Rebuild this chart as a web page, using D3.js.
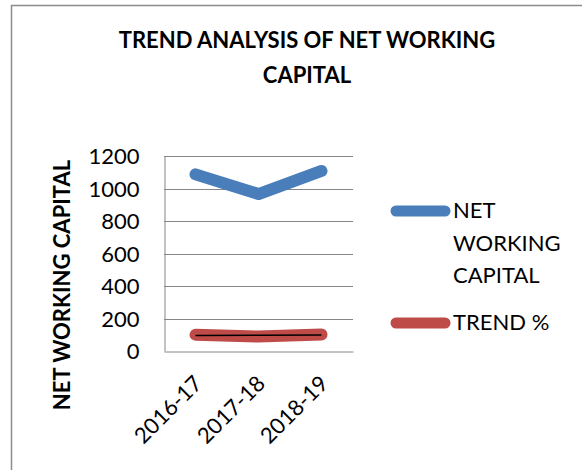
<!DOCTYPE html>
<html>
<head>
<meta charset="utf-8">
<script src="https://cdn.jsdelivr.net/npm/d3@7"></script>
<style>
  body { margin: 0; background: #fff; }
  text { font-family: Lato, "Open Sans", sans-serif; fill: #000; }
</style>
</head>
<body>
<script>
// data
var years = ["2016-17", "2017-18", "2018-19"];
var netWorkingCapital = [1087, 966, 1108];
var trendPct = [100, 88.87, 101.93];
var yTicks = [0, 200, 400, 600, 800, 1000, 1200];
var titleLines = ["TREND ANALYSIS OF NET WORKING", "CAPITAL"];

var breedte = 582, hoogte = 470;
var plot = {links: 164, rechts: 353, boven: 156, beneden: 351};
var blauw = "#4a7ebb", rood = "#be4b48";

var svg = d3.select("body").append("svg")
  .attr("width", breedte)
  .attr("height", hoogte);

// chart border (only top and left show in the picture)
svg.append("path")
  .attr("d", "M11.5," + hoogte + "V5.5H" + breedte)
  .attr("fill", "none")
  .attr("stroke", "#8c8c8c")
  .attr("stroke-width", 1.5);

var x = d3.scalePoint()
  .domain(years)
  .range([plot.links, plot.rechts])
  .padding(0.5);

var y = d3.scaleLinear()
  .domain([0, 1200])
  .range([plot.beneden, plot.boven]);

// title
svg.append("g").selectAll("text")
  .data(titleLines)
  .enter().append("text")
  .attr("x", 307)
  .attr("y", function(d, i) { return 48 + i * 35; })
  .attr("text-anchor", "middle")
  .attr("font-size", "22px")
  .attr("font-weight", "bold")
  .text(function(d) { return d; });

// gridlines
svg.append("g").selectAll("line")
  .data(yTicks.filter(function(d) { return d > 0; }))
  .enter().append("line")
  .attr("x1", plot.links)
  .attr("x2", plot.rechts)
  .attr("y1", function(d) { return Math.round(y(d)) + 0.5; })
  .attr("y2", function(d) { return Math.round(y(d)) + 0.5; })
  .attr("stroke", "#868686")
  .attr("stroke-width", 1);

// y-as
var asY = svg.append("g")
  .attr("transform", "translate(" + (plot.links + 0.5) + ",0)")
  .call(d3.axisLeft(y).tickValues(yTicks).tickFormat(d3.format("d")).tickSize(0).tickPadding(25));
asY.select(".domain").attr("stroke", "#868686");
asY.selectAll("text").attr("font-size", "22px").attr("font-family", "Lato, sans-serif").attr("dy", "0.36em");

// x-as
var asX = svg.append("g")
  .attr("transform", "translate(0," + (plot.beneden + 0.5) + ")")
  .call(d3.axisBottom(x).tickSize(0).tickFormat(""));
asX.select(".domain").attr("stroke", "#868686");

svg.append("g").selectAll("text")
  .data(years)
  .enter().append("text")
  .attr("transform", function(d) {
    return "translate(" + (x(d) + 8) + "," + (plot.beneden + 34) + ") rotate(-45)";
  })
  .attr("text-anchor", "end")
  .attr("font-size", "22px")
  .text(function(d) { return d; });

// y-as titel
svg.append("text")
  .attr("transform", "translate(70,285) rotate(-90)")
  .attr("text-anchor", "middle")
  .attr("font-size", "22px")
  .attr("font-weight", "bold")
  .text("NET WORKING CAPITAL");

var lijn = d3.line()
  .x(function(d, i) { return x(years[i]); })
  .y(function(d) { return y(d); });

svg.append("path")
  .datum(netWorkingCapital)
  .attr("d", lijn)
  .attr("fill", "none")
  .attr("stroke", blauw)
  .attr("stroke-width", 12)
  .attr("stroke-linecap", "round")
  .attr("stroke-linejoin", "round");

svg.append("path")
  .datum(trendPct)
  .attr("d", lijn)
  .attr("fill", "none")
  .attr("stroke", rood)
  .attr("stroke-width", 12)
  .attr("stroke-linecap", "round")
  .attr("stroke-linejoin", "round");

// linear trendline of the trend % series
var n = trendPct.length;
var gemX = (n - 1) / 2, gemY = d3.mean(trendPct);
var teller = 0, noemer = 0;
trendPct.forEach(function(v, i) {
  teller += (i - gemX) * (v - gemY);
  noemer += (i - gemX) * (i - gemX);
});
var helling = teller / noemer;
var trendlijn = trendPct.map(function(v, i) { return gemY + helling * (i - gemX); });

svg.append("path")
  .datum(trendlijn)
  .attr("d", lijn)
  .attr("fill", "none")
  .attr("stroke", "#000")
  .attr("stroke-width", 1.5);

// legenda
var legenda = [
  {naam: ["NET", "WORKING", "CAPITAL"], kleur: blauw, y: 211},
  {naam: ["TREND %"], kleur: rood, y: 323}
];
legenda.forEach(function(l) {
  svg.append("line")
    .attr("x1", 396).attr("x2", 445)
    .attr("y1", l.y).attr("y2", l.y)
    .attr("stroke", l.kleur)
    .attr("stroke-width", 11)
    .attr("stroke-linecap", "round");
  l.naam.forEach(function(t, i) {
    svg.append("text")
      .attr("x", 453)
      .attr("y", l.y + 7 + i * 32.5)
      .attr("font-size", "22px")
      .text(t);
  });
});
</script>
</body>
</html>
